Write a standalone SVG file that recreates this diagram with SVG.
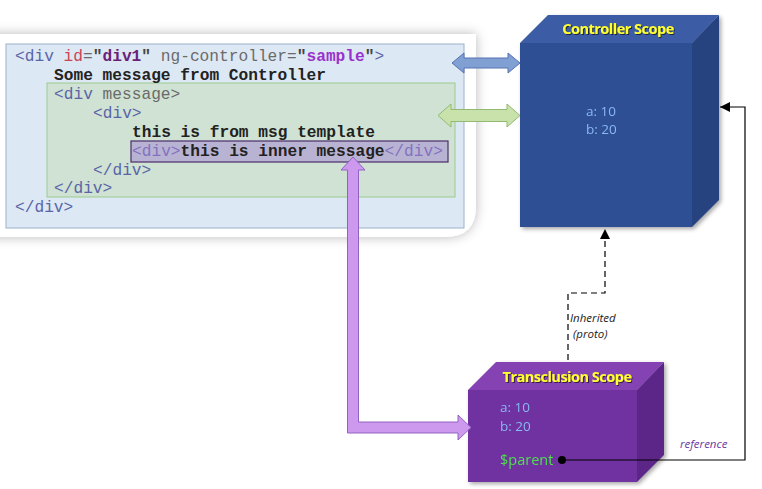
<svg xmlns="http://www.w3.org/2000/svg" width="762" height="489" viewBox="0 0 762 489">
<style>
.code{font-family:"Liberation Mono","Courier New",monospace;font-size:16.2px;fill:#222}
.b{font-weight:bold}
.tag{fill:#5a64a8}
.gr{fill:#6a6a6a}
.ttl{font-family:"Open Sans","Liberation Sans",sans-serif;font-weight:bold;font-size:14.5px;fill:#ffff33;letter-spacing:-0.5px}
.val{font-family:"Open Sans","Liberation Sans",sans-serif;font-size:13.5px;fill:#8ab8f2}
.lbl{font-family:"Open Sans","Liberation Sans",sans-serif;font-style:italic;font-size:11.5px;fill:#222}
</style>
<defs>
<filter id="sh" x="-10%" y="-20%" width="120%" height="140%">
<feDropShadow dx="0" dy="0" stdDeviation="6" flood-color="#000" flood-opacity="0.28"/>
</filter>
<filter id="csh" x="-10%" y="-10%" width="130%" height="130%">
<feDropShadow dx="2" dy="2" stdDeviation="2" flood-color="#000" flood-opacity="0.35"/>
</filter>
<filter id="tsh" x="-10%" y="-30%" width="120%" height="160%">
<feDropShadow dx="1" dy="1" stdDeviation="0.6" flood-color="#000" flood-opacity="0.6"/>
</filter>
<marker id="ah" viewBox="0 0 10 10" refX="10" refY="5" markerWidth="10" markerHeight="10" markerUnits="userSpaceOnUse" orient="auto">
<path d="M0,0 L10,5 L0,10 z" fill="#000"/>
</marker>
</defs>
<rect width="762" height="489" fill="#fff"/>

<g id="code-panel">
<path d="M-12,34 H476 V206 Q476,237 445,237 H-12 Z" fill="#fff" filter="url(#sh)"/>
<rect x="6" y="44" width="458" height="184" fill="#dde8f5" stroke="#9db0ca" stroke-width="1"/>
<rect x="47" y="83" width="408" height="114" fill="#cfe2d3" stroke="#9cc98e" stroke-width="1"/>
<rect x="131" y="141" width="317" height="21" fill="#b9b3d3" stroke="#4a2d6a" stroke-width="1.2"/>
<text class="code" x="15" y="61"><tspan class="tag">&lt;div</tspan> <tspan fill="#cc4455">id</tspan><tspan class="gr">=</tspan><tspan class="b" fill="#444">"</tspan><tspan class="b" fill="#6a1f78">div1</tspan><tspan class="b" fill="#444">"</tspan> <tspan class="gr">ng-controller=</tspan><tspan class="b" fill="#444">"</tspan><tspan class="b" fill="#9a33cc">sample</tspan><tspan class="b" fill="#444">"</tspan><tspan class="tag">&gt;</tspan></text>
<text class="code b" x="54" y="80">Some message from Controller</text>
<text class="code" x="54" y="99"><tspan class="tag">&lt;div</tspan> <tspan class="gr">message&gt;</tspan></text>
<text class="code tag" x="93" y="118">&lt;div&gt;</text>
<text class="code b" x="132" y="137">this is from msg template</text>
<text class="code" x="132" y="156"><tspan fill="#8272c0">&lt;div&gt;</tspan><tspan class="b">this is inner message</tspan><tspan fill="#8272c0">&lt;/div&gt;</tspan></text>
<text class="code tag" x="93" y="175">&lt;/div&gt;</text>
<text class="code tag" x="54" y="193">&lt;/div&gt;</text>
<text class="code tag" x="15" y="212">&lt;/div&gt;</text>
</g>

<g id="controller-scope" filter="url(#csh)">
<polygon points="520,43 548,15 719,15 692,43" fill="#3d5ca6"/>
<polygon points="692,43 719,15 719,200 692,227" fill="#25427f"/>
<rect x="520" y="43" width="172" height="184" fill="#2d4f94"/>
<text class="ttl" x="618" y="34" text-anchor="middle" filter="url(#tsh)">Controller Scope</text>
<text class="val" x="586" y="116">a: 10</text>
<text class="val" x="586" y="134">b: 20</text>
</g>

<g id="transclusion-scope" filter="url(#csh)">
<polygon points="468,390 496,362 664,362 637,390" fill="#8543b3"/>
<polygon points="637,390 664,362 664,455 637,482" fill="#5b2888"/>
<rect x="468" y="390" width="169" height="92" fill="#7030a0"/>
<text class="ttl" x="567" y="382" text-anchor="middle" filter="url(#tsh)">Transclusion Scope</text>
<text class="val" x="500" y="412">a: 10</text>
<text class="val" x="500" y="431">b: 20</text>
<text class="val" x="500" y="465" style="fill:#4fe04f;font-size:14.5px">$parent</text>
</g>

<g id="connectors">
<polygon points="452,63 464,53 464,58 508,58 508,53 520,63 508,73 508,68 464,68 464,73" fill="#809fd2" stroke="#5672b2" stroke-width="1"/>
<polygon points="438,115.5 451,104 451,109.5 507,109.5 507,104 520,115.5 507,127 507,121.5 451,121.5 451,127" fill="#c9e1aa" stroke="#92ba72" stroke-width="1"/>
<polygon points="353,157 365,170 358.5,170 358.5,422 458,422 458,415 471,427.5 458,440 458,433 347.5,433 347.5,170 341,170" fill="#cc99ee" stroke="#9262c2" stroke-width="1"/>
<path d="M568,360 V293 H605 V229" fill="none" stroke="#000" stroke-width="1.2" stroke-dasharray="6,4" marker-end="url(#ah)"/>
<path d="M562,460 H745 V107 H720" fill="none" stroke="#000" stroke-width="1.2" marker-end="url(#ah)"/>
<circle cx="562" cy="460" r="4" fill="#000"/>
<text class="lbl" x="570" y="322">Inherited</text>
<text class="lbl" x="573" y="338">(proto)</text>
<text class="lbl" x="680" y="448" style="fill:#6a3aa0">reference</text>
</g>
</svg>
